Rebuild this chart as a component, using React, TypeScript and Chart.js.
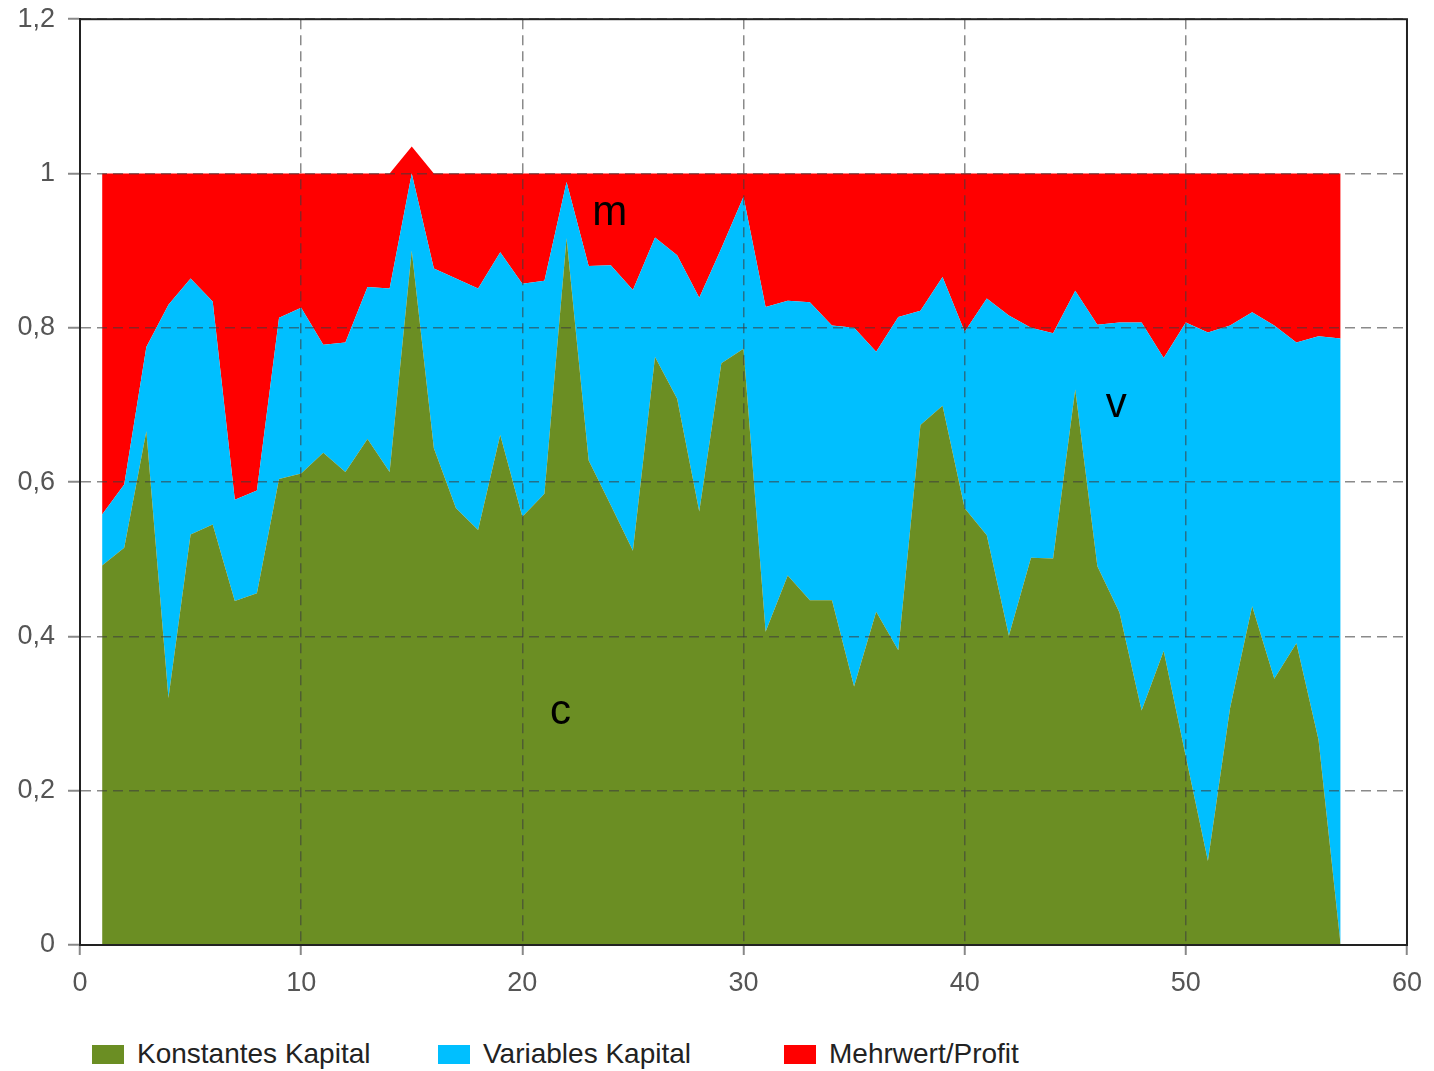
import React, { useEffect, useRef } from "react";
import { Chart, registerables } from "chart.js";

Chart.register(...registerables);

// x positions (periods)
const periods = [
  1, 2, 3, 4, 5, 6, 7, 8, 9, 10, 11, 12, 13, 14, 15, 16, 17, 18, 19, 20,
  21, 22, 23, 24, 25, 26, 27, 28, 29, 30, 31, 32, 33, 34, 35, 36, 37, 38, 39, 40,
  41, 42, 43, 44, 45, 46, 47, 48, 49, 50, 51, 52, 53, 54, 55, 56, 57,
];

// c – Konstantes Kapital
const konstantesKapital = [
  0.492, 0.515, 0.666, 0.32, 0.532, 0.545, 0.446, 0.456, 0.604, 0.611,
  0.638, 0.613, 0.656, 0.613, 0.9, 0.644, 0.566, 0.538, 0.661, 0.555,
  0.585, 0.916, 0.628, 0.57, 0.511, 0.762, 0.708, 0.562, 0.754, 0.773,
  0.406, 0.479, 0.447, 0.447, 0.335, 0.432, 0.382, 0.674, 0.699, 0.566,
  0.531, 0.401, 0.502, 0.501, 0.72, 0.491, 0.431, 0.304, 0.381, 0.244,
  0.109, 0.307, 0.439, 0.345, 0.391, 0.266, 0.0,
];

// v – Variables Kapital
const variablesKapital = [
  0.066, 0.082, 0.109, 0.51, 0.332, 0.289, 0.131, 0.133, 0.209, 0.215,
  0.14, 0.168, 0.197, 0.238, 0.1, 0.233, 0.298, 0.313, 0.237, 0.302,
  0.276, 0.073, 0.252, 0.311, 0.338, 0.155, 0.186, 0.277, 0.149, 0.197,
  0.421, 0.356, 0.386, 0.356, 0.465, 0.337, 0.432, 0.148, 0.167, 0.229,
  0.307, 0.415, 0.298, 0.292, 0.128, 0.313, 0.376, 0.503, 0.38, 0.563,
  0.685, 0.496, 0.381, 0.458, 0.39, 0.523, 0.786,
];

// m – Mehrwert/Profit
const mehrwertProfit = [
  0.442, 0.403, 0.225, 0.17, 0.136, 0.166, 0.423, 0.411, 0.187, 0.174,
  0.222, 0.219, 0.147, 0.149, 0.035, 0.123, 0.136, 0.149, 0.102, 0.143,
  0.139, 0.011, 0.12, 0.119, 0.151, 0.083, 0.106, 0.161, 0.097, 0.03,
  0.173, 0.165, 0.167, 0.197, 0.2, 0.231, 0.186, 0.178, 0.134, 0.205,
  0.162, 0.184, 0.2, 0.207, 0.152, 0.196, 0.193, 0.193, 0.239, 0.193,
  0.206, 0.197, 0.18, 0.197, 0.219, 0.211, 0.214,
];

const seriesLabels = ["Konstantes Kapital", "Variables Kapital", "Mehrwert/Profit"];
const seriesColors = ["#6B8E23", "#00BFFF", "#FF0000"];

// in-chart letters, in data coordinates
const areaLetters = [
  { text: "m", x: 23.95, y: 0.948 },
  { text: "v", x: 46.86, y: 0.699 },
  { text: "c", x: 21.73, y: 0.301 },
];

const FONT = "'Liberation Sans', Arial, sans-serif";

function fmtTick(v: number) {
  const s = Number(v).toFixed(1);
  return (s.endsWith(".0") ? s.slice(0, -2) : s).replace(".", ",");
}

export default function App() {
  const canvasRef = useRef<HTMLCanvasElement | null>(null);

  useEffect(() => {
    const canvas = canvasRef.current;
    if (!canvas) return;

    const seriesData = [konstantesKapital, variablesKapital, mehrwertProfit];

    const framePlugin = {
      id: "frameAndLetters",
      afterDraw(chart: any) {
        const { ctx, chartArea, scales } = chart;
        ctx.save();
        ctx.strokeStyle = "#222";
        ctx.lineWidth = 2;
        ctx.strokeRect(
          chartArea.left,
          chartArea.top,
          chartArea.right - chartArea.left,
          chartArea.bottom - chartArea.top
        );
        ctx.fillStyle = "#000";
        ctx.font = `42px ${FONT}`;
        ctx.textAlign = "center";
        ctx.textBaseline = "middle";
        for (const l of areaLetters) {
          ctx.fillText(l.text, scales.x.getPixelForValue(l.x), scales.y.getPixelForValue(l.y));
        }
        ctx.restore();
      },
    };

    const gridOpts = (tickLength: number) => ({
      z: 1,
      color: "rgba(60,60,60,0.6)",
      lineWidth: 1.5,
      tickLength,
      tickColor: "#888",
      tickWidth: 2,
    });

    const chart = new Chart(canvas, {
      type: "line",
      data: {
        datasets: seriesData.map((arr, i) => ({
          label: seriesLabels[i],
          data: periods.map((p, j) => ({ x: p, y: arr[j] })),
          backgroundColor: seriesColors[i],
          borderColor: seriesColors[i],
          borderWidth: 0,
          pointRadius: 0,
          tension: 0,
          fill: i === 0 ? "origin" : "-1",
        })),
      },
      options: {
        responsive: false,
        animation: false,
        layout: { padding: { top: 8, right: 26, left: 0, bottom: 0 } },
        plugins: {
          legend: { display: false },
          tooltip: { enabled: false },
        },
        scales: {
          x: {
            type: "linear",
            min: 0,
            max: 60,
            afterFit: (s: any) => {
              s.height = 73;
            },
            ticks: {
              stepSize: 10,
              padding: 12,
              color: "#555",
              font: { family: FONT, size: 27 },
              callback: (v: any) => fmtTick(v),
            },
            grid: gridOpts(10),
            border: { display: true, color: "#222", width: 2, dash: [10, 6], z: 2 },
          },
          y: {
            stacked: true,
            min: 0,
            max: 1.2,
            afterFit: (s: any) => {
              s.width = 80;
            },
            ticks: {
              stepSize: 0.2,
              padding: 13,
              color: "#555",
              font: { family: FONT, size: 27 },
              callback: (v: any) => fmtTick(v),
            },
            grid: gridOpts(12),
            border: { display: true, color: "#222", width: 2, dash: [10, 6], z: 2 },
          },
        },
      },
      plugins: [framePlugin],
    } as any);

    return () => chart.destroy();
  }, []);

  return (
    <div style={{ position: "absolute", left: 0, top: 0, width: 1434, height: 1071, background: "#fff", overflow: "hidden" }}>
      <canvas
        ref={canvasRef}
        width={1434}
        height={1028}
        style={{ position: "absolute", left: 0, top: -10, display: "block" }}
      />
      <div
        style={{
          position: "absolute",
          left: 92,
          top: 1038,
          display: "flex",
          fontFamily: FONT,
          fontSize: 28,
          color: "#222",
          lineHeight: "32px",
        }}
      >
        {seriesLabels.map((lbl, i) => (
          <div key={lbl} style={{ width: 346, display: "flex", alignItems: "center" }}>
            <span
              style={{
                display: "inline-block",
                width: 32,
                height: 19,
                background: seriesColors[i],
                marginRight: 13,
              }}
            />
            <span>{lbl}</span>
          </div>
        ))}
      </div>
    </div>
  );
}
